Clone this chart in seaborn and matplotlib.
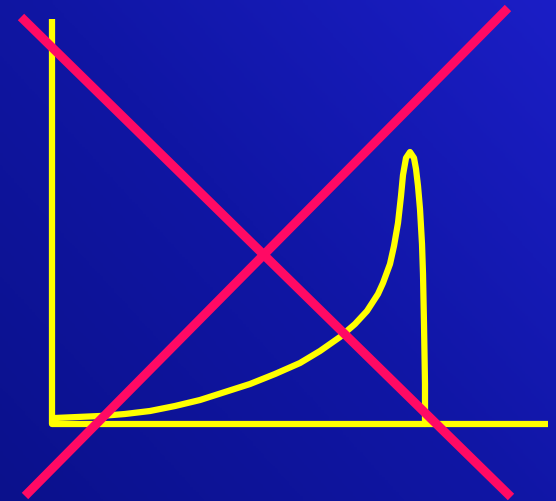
import numpy as np
import pandas as pd
import matplotlib
matplotlib.use("Agg")
import matplotlib.pyplot as plt
from matplotlib.colors import LinearSegmentedColormap
import seaborn as sns

# Distribution curve: slow rise, sharp peak near the upper end, then abrupt cutoff
curve_x = [3, 48, 73, 98, 123, 148, 173, 198, 223, 248, 268, 288, 303, 315,
           326, 331, 338, 342, 346, 349, 351, 354, 358, 362, 364, 366, 368,
           370, 371, 372, 373, 373]
curve_y = [6, 8, 10, 13, 18, 24, 32, 40, 50, 61, 73, 87, 100, 113,
           130, 141, 160, 178, 201, 228, 249, 266, 272, 266, 255, 238, 215,
           180, 150, 100, 40, 0]

# Axis frame (L shape)
axis_x = [0, 0, 496]
axis_y = [405, 0, 0]

# Crossing-out strokes
cross_a_x = [-31, 459]
cross_a_y = [407, -73]
cross_b_x = [-27, 456]
cross_b_y = [-72, 416]

YELLOW = "#ffff00"
PINK = "#ff0a64"

sns.set_theme(style="white")
fig = plt.figure(figsize=(5.56, 5.01), dpi=100)
ax = fig.add_axes([0, 0, 1, 1])
ax.set_xlim(-52, 504)
ax.set_ylim(-77, 424)
ax.axis("off")

# Blue gradient backdrop, brighter toward the top-right
cmap = LinearSegmentedColormap.from_list("bg", ["#0b118c", "#1016a4", "#1b1ec6"])
gx, gy = np.meshgrid(np.linspace(0, 1, 200), np.linspace(0, 1, 200))
grad = 0.55 * gx + 0.45 * gy
ax.imshow(grad, cmap=cmap, extent=[-52, 504, -77, 424], origin="lower",
          aspect="auto", zorder=0)

frame = pd.DataFrame({"x": axis_x, "y": axis_y})
sns.lineplot(data=frame, x="x", y="y", sort=False, estimator=None,
             color=YELLOW, lw=4.5, ax=ax, zorder=2,
             solid_joinstyle="round", solid_capstyle="butt")

curve = pd.DataFrame({"x": curve_x, "y": curve_y})
sns.lineplot(data=curve, x="x", y="y", sort=False, estimator=None,
             color=YELLOW, lw=4.5, ax=ax, zorder=3,
             solid_joinstyle="round", solid_capstyle="round")

for cx, cy in [(cross_a_x, cross_a_y), (cross_b_x, cross_b_y)]:
    seg = pd.DataFrame({"x": cx, "y": cy})
    sns.lineplot(data=seg, x="x", y="y", sort=False, estimator=None,
                 color=PINK, lw=6.5, ax=ax, zorder=4, solid_capstyle="butt")

ax.set_xlabel("")
ax.set_ylabel("")
fig.savefig("out.png", dpi=100)
